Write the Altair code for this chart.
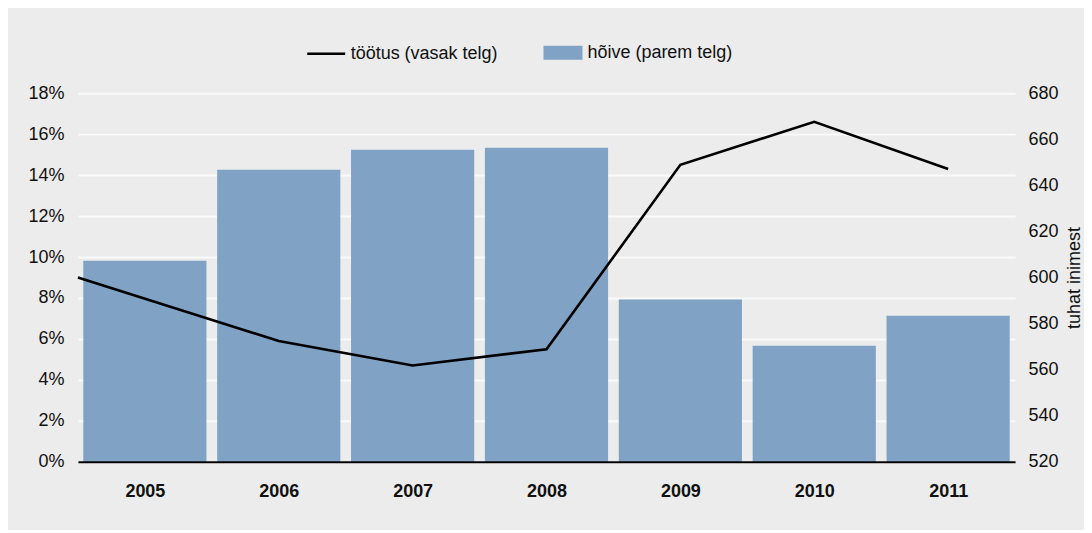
import altair as alt
import pandas as pd

# ---- data ----
years = [2005, 2006, 2007, 2008, 2009, 2010, 2011]
hoive = [607.3, 646.8, 655.4, 656.3, 590.4, 570.4, 583.4]          # thousand people (right axis)
line_pos = [2004.5, 2006, 2007, 2008, 2009, 2010, 2011]           # first point sits on the left edge
tootus = [9.0, 5.9, 4.7, 5.5, 14.5, 16.6, 14.3]                   # % (left axis)
pct_ticks = [0, 2, 4, 6, 8, 10, 12, 14, 16, 18]
right_ticks = [520, 540, 560, 580, 600, 620, 640, 660, 680]
line_label = "töötus (vasak telg)"
bar_label = "hõive (parem telg)"
right_title = "tuhat inimest"

FONT = "Liberation Sans"
BG = "#ebeceb"
BAR = "#7fa2c5"

bars_df = pd.DataFrame({"year": years, "hoive": hoive, "series": [bar_label] * len(years)})
line_df = pd.DataFrame({"pos": line_pos, "tootus": tootus, "series": [line_label] * len(line_pos)})

x_scale = alt.Scale(domain=[2004.5, 2011.5], nice=False, zero=False)
x_axis = alt.Axis(values=years, format="d", title=None, ticks=False, grid=False,
                  labelFontSize=18, labelFontWeight="bold", labelColor="#111",
                  labelPadding=21, domainColor="#000", domainWidth=2, zindex=1,
                  labelFlush=False)

bars = alt.Chart(bars_df).transform_calculate(
    x0="datum.year - 0.46", x1="datum.year + 0.46"
).mark_bar().encode(
    x=alt.X("x0:Q", scale=x_scale, axis=x_axis),
    x2="x1:Q",
    y=alt.Y("hoive:Q", scale=alt.Scale(domain=[520, 680], nice=False, zero=False),
            axis=alt.Axis(orient="right", values=right_ticks, grid=False, ticks=False,
                          domain=False, labelFontSize=18, labelColor="#111",
                          labelPadding=13, title=right_title, titleFontSize=18,
                          titleFontWeight="normal", titleColor="#111",
                          titleAngle=270, titleX=59, titleY=184.5,
                          titleAlign="center", titleBaseline="middle")),
    y2=alt.datum(520),
    fill=alt.Fill("series:N", scale=alt.Scale(domain=[bar_label], range=[BAR]),
                  legend=alt.Legend(orient="none", legendX=466, legendY=-60,
                                    direction="horizontal", title=None,
                                    symbolType="M-1,-0.36H1V0.36H-1Z", symbolSize=1521,
                                    symbolStrokeWidth=0, labelFontSize=18,
                                    labelColor="#111", labelOffset=5, padding=0)),
)

line = alt.Chart(line_df).mark_line(strokeWidth=2.6).encode(
    x=alt.X("pos:Q", scale=x_scale, axis=x_axis),
    y=alt.Y("tootus:Q", scale=alt.Scale(domain=[0, 18], nice=False),
            axis=alt.Axis(orient="left", values=pct_ticks, labelExpr="datum.value + '%'",
                          grid=True, gridColor="#fafafa", gridWidth=2, ticks=False,
                          domain=False, labelFontSize=18, labelColor="#111",
                          labelPadding=14, title=None)),
    stroke=alt.Stroke("series:N", scale=alt.Scale(domain=[line_label], range=["#000000"]),
                      legend=alt.Legend(orient="none", legendX=228, legendY=-60,
                                        direction="horizontal", title=None,
                                        symbolType="stroke", symbolSize=1444,
                                        symbolStrokeWidth=2.6, labelFontSize=18,
                                        labelColor="#111", labelOffset=4, padding=0)),
)

chart = alt.layer(bars, line).resolve_scale(y="independent").properties(
    width=938, height=369,
    padding={"left": 70, "top": 85, "right": 69, "bottom": 68},
    autosize=alt.AutoSizeParams(type="none"),
    background=BG,
).configure(font=FONT).configure_view(stroke=None)

chart.save("out.html", embed_options={"renderer": "svg", "actions": False})
